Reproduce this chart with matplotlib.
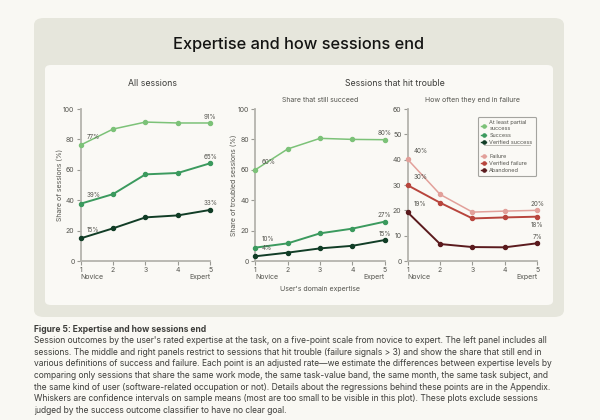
import numpy as np
import matplotlib
matplotlib.use("Agg")
import matplotlib.pyplot as plt
from matplotlib.patches import FancyBboxPatch
from matplotlib.lines import Line2D

plt.rcParams['font.family'] = ['Inter', 'DejaVu Sans']

# expertise levels 1..5
levels = [1, 2, 3, 4, 5]

# all sessions
all_partial = [76.3, 86.8, 91.4, 90.8, 90.8]
all_success = [37.7, 44.0, 57.0, 57.9, 64.3]
all_verified = [14.9, 21.5, 28.7, 30.0, 33.6]
all_labels = (["77%", "91%"], ["39%", "65%"], ["15%", "33%"])

# troubled sessions - success
tr_partial = [60.0, 73.7, 80.7, 80.0, 79.8]
tr_success = [8.8, 11.6, 18.2, 21.3, 25.9]
tr_verified = [3.1, 5.5, 8.3, 10.0, 13.8]
tr_labels = (["60%", "80%"], ["10%", "27%"], ["4%", "15%"])

# troubled sessions - failure
fail_any = [40.1, 26.3, 19.3, 19.7, 20.0]
fail_verified = [29.9, 23.0, 16.8, 17.2, 17.5]
fail_abandoned = [19.2, 6.7, 5.5, 5.4, 7.0]
fail_labels = (["40%", "20%"], ["30%", "18%"], ["19%", "7%"])

greens = ['#7cc278', '#3b9a5e', '#113d26']
reds = ['#e2a09a', '#b8453d', '#5b1b1e']
names_g = ['At least partial\nsuccess', 'Success', 'Verified success']
names_r = ['Failure', 'Verified failure', 'Abandoned']

bg = '#f9f8f3'
fig = plt.figure(figsize=(6, 4.2), dpi=100, facecolor=bg)

# background panels
W, H = 600, 420
def box(x0, y0, x1, y1, color, r):
    p = FancyBboxPatch((x0 / W, 1 - y1 / H), (x1 - x0) / W, (y1 - y0) / H,
                       boxstyle="round,pad=0,rounding_size=%f" % (r / W),
                       transform=fig.transFigure, facecolor=color,
                       edgecolor='none', zorder=-10)
    fig.patches.append(p)
box(34, 18, 564, 317, '#e6e6dc', 10)
box(45, 65, 553, 305, '#faf9f5', 6)

fig.text(0.497, 1 - 44 / H, "Expertise and how sessions end", ha='center',
         va='center', fontsize=11.8, fontweight='medium', color='#141413')

def make_ax(xpx, ymax):
    ax = fig.add_axes([xpx / W, (H - 261) / H, 129.5 / W, 152 / H])
    ax.set_facecolor('none')
    ax.set_xlim(1, 5)
    ax.set_ylim(0, ymax)
    for s in ['top', 'right']:
        ax.spines[s].set_visible(False)
    for s in ['left', 'bottom']:
        ax.spines[s].set_color('#b5b4ae')
        ax.spines[s].set_linewidth(1.3)
    ax.tick_params(length=3, width=0.8, color='#9a9a94', labelsize=5,
                   labelcolor='#55554f', pad=1.5)
    ax.set_xticks(levels)
    ax.text(1, -0.085, "Novice", transform=ax.get_xaxis_transform(),
            ha='left', va='top', fontsize=5, color='#55554f')
    ax.text(5, -0.085, "Expert", transform=ax.get_xaxis_transform(),
            ha='right', va='top', fontsize=5, color='#55554f')
    return ax

def draw(ax, series, colors, labels, last_below=()):
    for i, (ys, c, lab) in enumerate(zip(series, colors, labels)):
        lw = 1.1 if i == 0 else 1.4
        ax.plot(levels, ys, color=c, lw=lw, marker='o', ms=2.9, clip_on=False, zorder=3)
        ax.annotate(lab[0], (levels[0], ys[0]), xytext=(4.5, 4.5),
                    textcoords='offset points', fontsize=4.5, color='#55554f')
        if i in last_below:
            ax.annotate(lab[1], (levels[-1], ys[-1]), xytext=(0, -4),
                        textcoords='offset points', fontsize=4.5,
                        color='#55554f', ha='center', va='top')
        else:
            ax.annotate(lab[1], (levels[-1], ys[-1]), xytext=(0, 2.5),
                        textcoords='offset points', fontsize=4.5,
                        color='#55554f', ha='center', va='bottom')

ax1 = make_ax(80.7, 100)
draw(ax1, [all_partial, all_success, all_verified], greens, all_labels)
ax1.set_ylabel("Share of sessions (%)", fontsize=5, color='#55554f', labelpad=0.5)

ax2 = make_ax(255.3, 100)
draw(ax2, [tr_partial, tr_success, tr_verified], greens, tr_labels)
ax2.set_ylabel("Share of troubled sessions (%)", fontsize=5, color='#55554f', labelpad=0.5)
ax2.set_title("Share that still succeed", fontsize=5, color='#55554f', pad=5)
ax2.set_xlabel("User's domain expertise", fontsize=5, color='#55554f', labelpad=9)

ax3 = make_ax(407.7, 60)
ax3.set_yticks([0, 10, 20, 30, 40, 50, 60])
draw(ax3, [fail_any, fail_verified, fail_abandoned], reds, fail_labels, last_below=(1,))
ax3.set_title("How often they end in failure", fontsize=5, color='#55554f', pad=5)

fig.text(152 / W, 1 - 83 / H, "All sessions", ha='center',
         va='center', fontsize=6.3, color='#3d3d3a')
fig.text(395 / W, 1 - 83 / H, "Sessions that hit trouble", ha='center',
         va='center', fontsize=6.3, color='#3d3d3a')

# legend
handles = [Line2D([], [], color=c, marker='o', ms=2.3, lw=1) for c in greens]
handles.append(Line2D([], [], color='none'))
handles += [Line2D([], [], color=c, marker='o', ms=2.3, lw=1) for c in reds]
leg = ax3.legend(handles, names_g + [''] + names_r, loc='upper right',
                 bbox_to_anchor=(1.01, 0.965), fontsize=4.0, frameon=True,
                 handlelength=1.0, handletextpad=0.5, labelspacing=0.35,
                 borderpad=0.6, fancybox=True, labelcolor='#55554f')
leg.get_frame().set_edgecolor('#8f8f8a')
leg.get_frame().set_linewidth(0.8)
leg.get_frame().set_facecolor('#faf9f5')
fig.canvas.draw()
bb = leg.get_window_extent()
sep_y = (bb.y0 + bb.y1) / 2 + 0.03 * bb.height
sep_y = fig.transFigure.inverted().transform((0, sep_y))[1]
x0, x1 = fig.transFigure.inverted().transform([[bb.x0 + 6, 0], [bb.x1 - 6, 0]])[:, 0]
fig.add_artist(Line2D([x0, x1], [sep_y, sep_y], color='#b5b4ae', lw=0.6,
                      transform=fig.transFigure))

# caption
fig.text(34 / W, 1 - 330 / H, "Figure 5: Expertise and how sessions end",
         fontsize=6.1, fontweight='bold', color='#3d3d3a', va='center')
caption = ("Session outcomes by the user's rated expertise at the task, on a five-point scale from novice to expert. The left panel includes all\n"
           "sessions. The middle and right panels restrict to sessions that hit trouble (failure signals > 3) and show the share that still end in\n"
           "various definitions of success and failure. Each point is an adjusted rate\u2014we estimate the differences between expertise levels by\n"
           "comparing only sessions that share the same work mode, the same task-value band, the same month, the same task subject, and\n"
           "the same kind of user (software-related occupation or not). Details about the regressions behind these points are in the Appendix.\n"
           "Whiskers are confidence intervals on sample means (most are too small to be visible in this plot). These plots exclude sessions\n"
           "judged by the success outcome classifier to have no clear goal.")
fig.text(34 / W, 1 - 336 / H, caption, fontsize=6.1, color='#3d3d3a',
         va='top', linespacing=1.38)

fig.savefig("out.png", dpi=100, facecolor=bg)
